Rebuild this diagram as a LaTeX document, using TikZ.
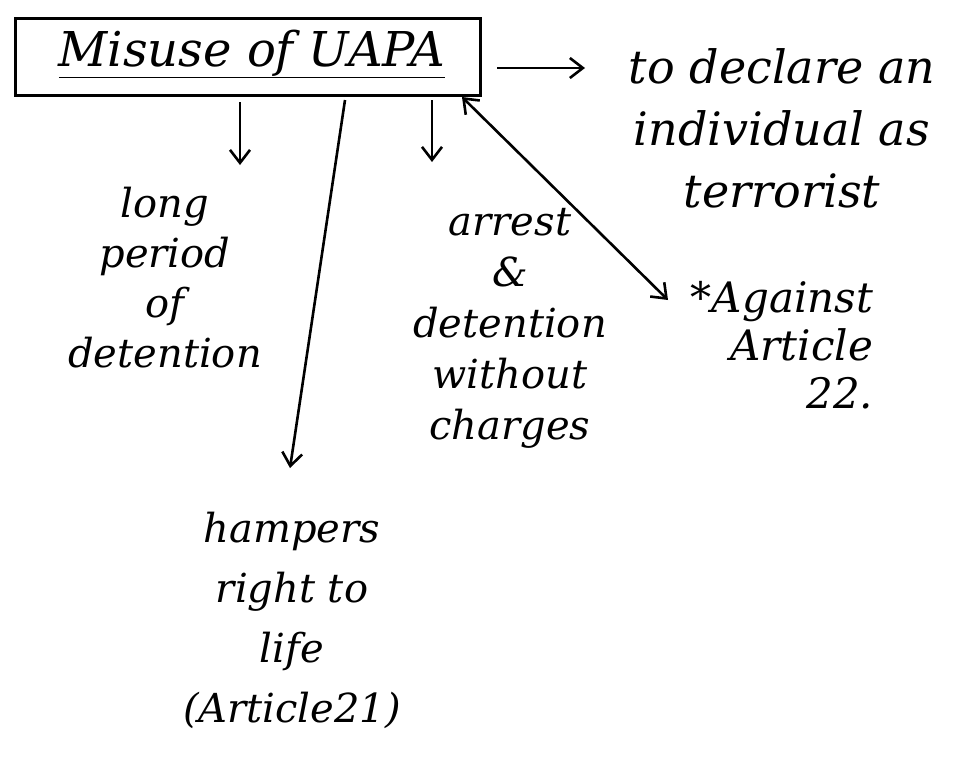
\documentclass[tikz,border=0pt]{standalone}
\usepackage{fontspec}
\setmainfont{DejaVu Serif}
\usetikzlibrary{arrows.meta}
\begin{document}
\begin{tikzpicture}[x=1pt,y=-1pt,
  txt/.style={font=\fontsize{40}{52}\selectfont\itshape, align=center, inner sep=0pt},
  arr/.style={-{Straight Barb[length=13pt,width=20pt]}, line width=2.6pt},
  darr/.style={{Straight Barb[length=13pt,width=20pt]}-{Straight Barb[length=13pt,width=20pt]}, line width=2.6pt}]
\useasboundingbox[fill=white] (0,0) rectangle (976,761);
% title box
\node[draw, line width=3pt, minimum width=465pt, minimum height=77pt, inner sep=0pt] (box) at (248,57) {};
\node[txt, font=\fontsize{48}{52}\selectfont\itshape] (title) at (252,54) {\underline{Misuse of UAPA}};
% text blocks
\node[txt, font=\fontsize{46}{62}\selectfont\itshape] (declare) at (782,128) {to declare an\\individual as\\terrorist};
\node[txt, font=\fontsize{40}{50}\selectfont\itshape] (long) at (165,278) {long\\period\\of\\detention};
\node[txt, font=\fontsize{40}{51}\selectfont\itshape] (arrest) at (510,328) {arrest\\\&\\detention\\without\\charges};
\node[txt, font=\fontsize{42}{48}\selectfont\itshape, align=right] (against) at (782,345) {*Against\\Article\\22.};
\node[txt, font=\fontsize{40}{60}\selectfont\itshape] (hampers) at (292,620) {hampers\\right to\\life\\(Article21)};
% connectors
\coordinate (rs) at (497,68);  \coordinate (re) at (585,68);
\coordinate (ls) at (240,102); \coordinate (le) at (240,165);
\coordinate (hs) at (345,100); \coordinate (he) at (290,468);
\coordinate (ms) at (432,100); \coordinate (me) at (432,162);
\coordinate (ds) at (462,97);  \coordinate (de) at (668,300);
\draw[arr] (rs) -- (re);
\draw[arr] (ls) -- (le);
\draw[arr] (hs) -- (he);
\draw[arr] (ms) -- (me);
\draw[darr] (ds) -- (de);
\end{tikzpicture}
\end{document}
